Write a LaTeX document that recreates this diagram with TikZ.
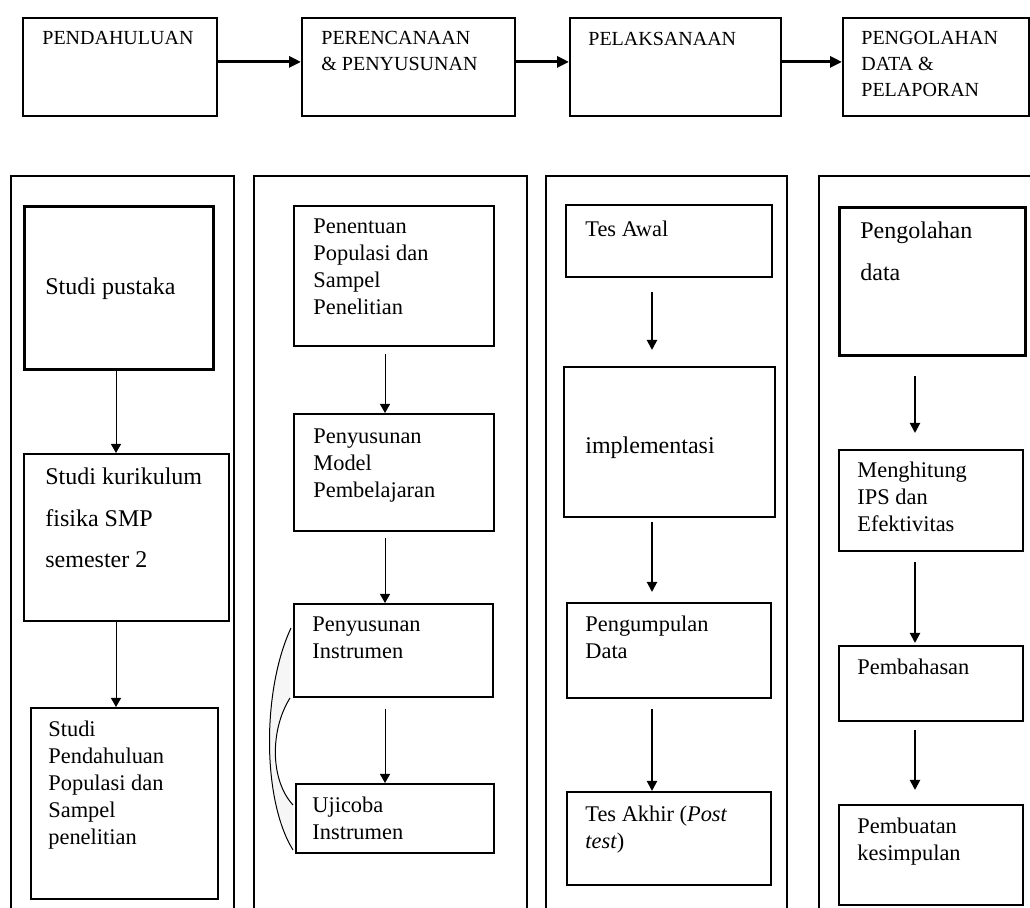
\documentclass[tikz,border=0pt]{standalone}
\usepackage{fontspec}
\setmainfont{Liberation Serif}
\usetikzlibrary{arrows.meta}
\newcommand{\tumpuk}[1]{\vtop{\halign{##\hfil\cr#1\crcr}}}

\begin{document}
\begin{tikzpicture}[x=0.5pt,y=-0.5pt,line join=miter,
  kotak/.style={draw,line width=0.9pt,anchor=north west,inner sep=0pt},
  kotaktebal/.style={kotak,line width=1.5pt},
  bingkai/.style={line width=1.4pt},
  judul/.style={anchor=base west,inner sep=0pt,font=\fontsize{10}{13}\selectfont},
  isi/.style={anchor=base west,inner sep=0pt,font=\fontsize{11.2}{13.4}\selectfont},
  besar/.style={anchor=base west,inner sep=0pt,font=\fontsize{12}{20.7}\selectfont},
  panahatas/.style={-{Triangle[length=6pt,width=5.5pt]},line width=1.5pt},
  panahtipis/.style={-{Triangle[length=4.5pt,width=5pt]},line width=0.5pt},
  panahsedang/.style={-{Triangle[length=5pt,width=5pt]},line width=1pt}]
  \useasboundingbox (0,0) rectangle (1030,908);
  \clip (0,0) rectangle (1030,908);

  \node[kotak,minimum width=97pt,minimum height=49pt,
    label={[judul,xshift=10pt,yshift=-14pt]north west:PENDAHULUAN}] (pend) at (22,17) {};
  \node[kotak,minimum width=106.5pt,minimum height=49pt,
    label={[judul,xshift=10pt,yshift=-14pt]north west:{\tumpuk{PERENCANAAN\cr\& PENYUSUNAN}}}] (renc) at (301,17) {};
  \node[kotak,minimum width=105.5pt,minimum height=49pt,
    label={[judul,xshift=9.5pt,yshift=-14.5pt]north west:PELAKSANAAN}] (laks) at (569,17) {};
  \node[kotak,minimum width=93pt,minimum height=49pt,
    label={[judul,xshift=9.5pt,yshift=-14pt]north west:{\tumpuk{PENGOLAHAN\cr DATA \&\cr PELAPORAN}}}] (olah) at (842,17) {};
  \draw[panahatas] ([yshift=2.5pt]pend.east) -- ([yshift=2.5pt]renc.west);
  \draw[panahatas] ([yshift=2.5pt]renc.east) -- ([yshift=2.5pt]laks.west);
  \draw[panahatas] ([yshift=2.5pt]laks.east) -- ([yshift=2.5pt]olah.west);

  \draw[bingkai] (11,930) -- (11,176) -- (234,176) -- (234,930);
  \draw[bingkai] (254,930) -- (254,176) -- (527,176) -- (527,930);
  \draw[bingkai] (546,930) -- (546,176) -- (787,176) -- (787,930);
  \draw[bingkai] (819,930) -- (819,176) -- (1040,176);

  \node[kotaktebal,minimum width=94.5pt,minimum height=81.5pt,
    label={[besar,xshift=11pt,yshift=-45pt]north west:Studi pustaka}] (pustaka) at (23,205) {};
  \node[kotak,minimum width=102.5pt,minimum height=83.5pt,
    label={[besar,xshift=11pt,yshift=-16pt]north west:{\tumpuk{Studi kurikulum\cr fisika SMP\cr semester 2}}}] (kurik) at (23,453) {};
  \node[kotak,minimum width=93.5pt,minimum height=95.5pt,
    label={[isi,xshift=9pt,yshift=-15pt]north west:{\tumpuk{Studi\cr Pendahuluan\cr Populasi dan\cr Sampel\cr penelitian}}}] (spend) at (30,707) {};
  \coordinate (k1) at (116,0);
  \draw[panahtipis] (pustaka.south -| k1) -- (k1 |- kurik.north);
  \draw[panahtipis] (kurik.south -| k1) -- (k1 |- spend.north);

  \node[kotak,minimum width=100pt,minimum height=70pt,
    label={[isi,xshift=10pt,yshift=-14.5pt]north west:{\tumpuk{Penentuan\cr Populasi dan\cr Sampel\cr Penelitian}}}] (penentuan) at (293,205) {};
  \node[kotak,minimum width=100pt,minimum height=58.5pt,
    label={[isi,xshift=10pt,yshift=-15.5pt]north west:{\tumpuk{Penyusunan\cr Model\cr Pembelajaran}}}] (model) at (293,413) {};
  \node[kotak,minimum width=99.5pt,minimum height=46.5pt,
    label={[isi,xshift=9.5pt,yshift=-14.5pt]north west:{\tumpuk{Penyusunan\cr Instrumen}}}] (instr) at (293,603) {};
  \node[kotak,minimum width=99pt,minimum height=34.5pt,
    label={[isi,xshift=8.5pt,yshift=-15pt]north west:{\tumpuk{Ujicoba\cr Instrumen}}}] (uji) at (295,783) {};
  \coordinate (k2) at (385,0);
  \draw[panahtipis] ([yshift=-3.5pt]penentuan.south -| k2) -- (k2 |- model.north);
  \draw[panahtipis] ([yshift=-3pt]model.south -| k2) -- (k2 |- instr.north);
  \draw[panahtipis] ([yshift=-5.5pt]instr.south -| k2) -- (k2 |- uji.north);
  \fill[gray!7] (291,628) .. controls (262,690) and (262,800) .. (293,850)
    -- (293,805) .. controls (270,780) and (270,730) .. (290,698) -- cycle;
  \draw[line width=0.5pt] (291,628) .. controls (262,690) and (262,800) .. (293,850);
  \draw[line width=0.5pt] (290,698) .. controls (270,730) and (270,780) .. (293,805);

  \node[kotak,minimum width=103pt,minimum height=36pt,
    label={[isi,xshift=10pt,yshift=-16.5pt]north west:Tes Awal}] (awal) at (565,204) {};
  \node[kotak,minimum width=105.5pt,minimum height=75pt,
    label={[besar,xshift=11pt,yshift=-44pt]north west:implementasi}] (impl) at (563,366) {};
  \node[kotak,minimum width=102pt,minimum height=47.5pt,
    label={[isi,xshift=9.5pt,yshift=-15pt]north west:{\tumpuk{Pengumpulan\cr Data}}}] (kumpul) at (566,602) {};
  \node[kotak,minimum width=102pt,minimum height=46.5pt,
    label={[isi,xshift=9.5pt,yshift=-15.5pt]north west:{\tumpuk{Tes Akhir (\textit{Post}\cr\textit{test})}}}] (akhir) at (566,791) {};
  \coordinate (k3) at (652,0);
  \draw[panahsedang] ([yshift=-7pt]awal.south -| k3) -- ([yshift=8pt]k3 |- impl.north);
  \draw[panahsedang] ([yshift=-2pt]impl.south -| k3) -- ([yshift=5pt]k3 |- kumpul.north);
  \draw[panahsedang] ([yshift=-5pt]kumpul.south -| k3) -- (k3 |- akhir.north);

  \node[kotaktebal,minimum width=93pt,minimum height=74pt,
    label={[besar,xshift=11pt,yshift=-16.5pt]north west:{\tumpuk{Pengolahan\cr data}}}] (olahdata) at (838,206) {};
  \node[kotak,minimum width=92pt,minimum height=50.5pt,
    label={[isi,xshift=9.5pt,yshift=-14.5pt]north west:{\tumpuk{Menghitung\cr IPS dan\cr Efektivitas}}}] (hitung) at (838,449) {};
  \node[kotak,minimum width=92pt,minimum height=37.5pt,
    label={[isi,xshift=9.5pt,yshift=-15pt]north west:Pembahasan}] (bahas) at (838,645) {};
  \node[kotak,minimum width=92pt,minimum height=50pt,
    label={[isi,xshift=9.5pt,yshift=-15pt]north west:{\tumpuk{Pembuatan\cr kesimpulan}}}] (simpul) at (838,804) {};
  \coordinate (k4) at (915,0);
  \draw[panahsedang] ([yshift=-9.5pt]olahdata.south -| k4) -- ([yshift=8pt]k4 |- hitung.north);
  \draw[panahsedang] ([yshift=-5pt]hitung.south -| k4) -- ([yshift=1pt]k4 |- bahas.north);
  \draw[panahsedang] ([yshift=-4pt]bahas.south -| k4) -- ([yshift=7pt]k4 |- simpul.north);
\end{tikzpicture}
\end{document}
